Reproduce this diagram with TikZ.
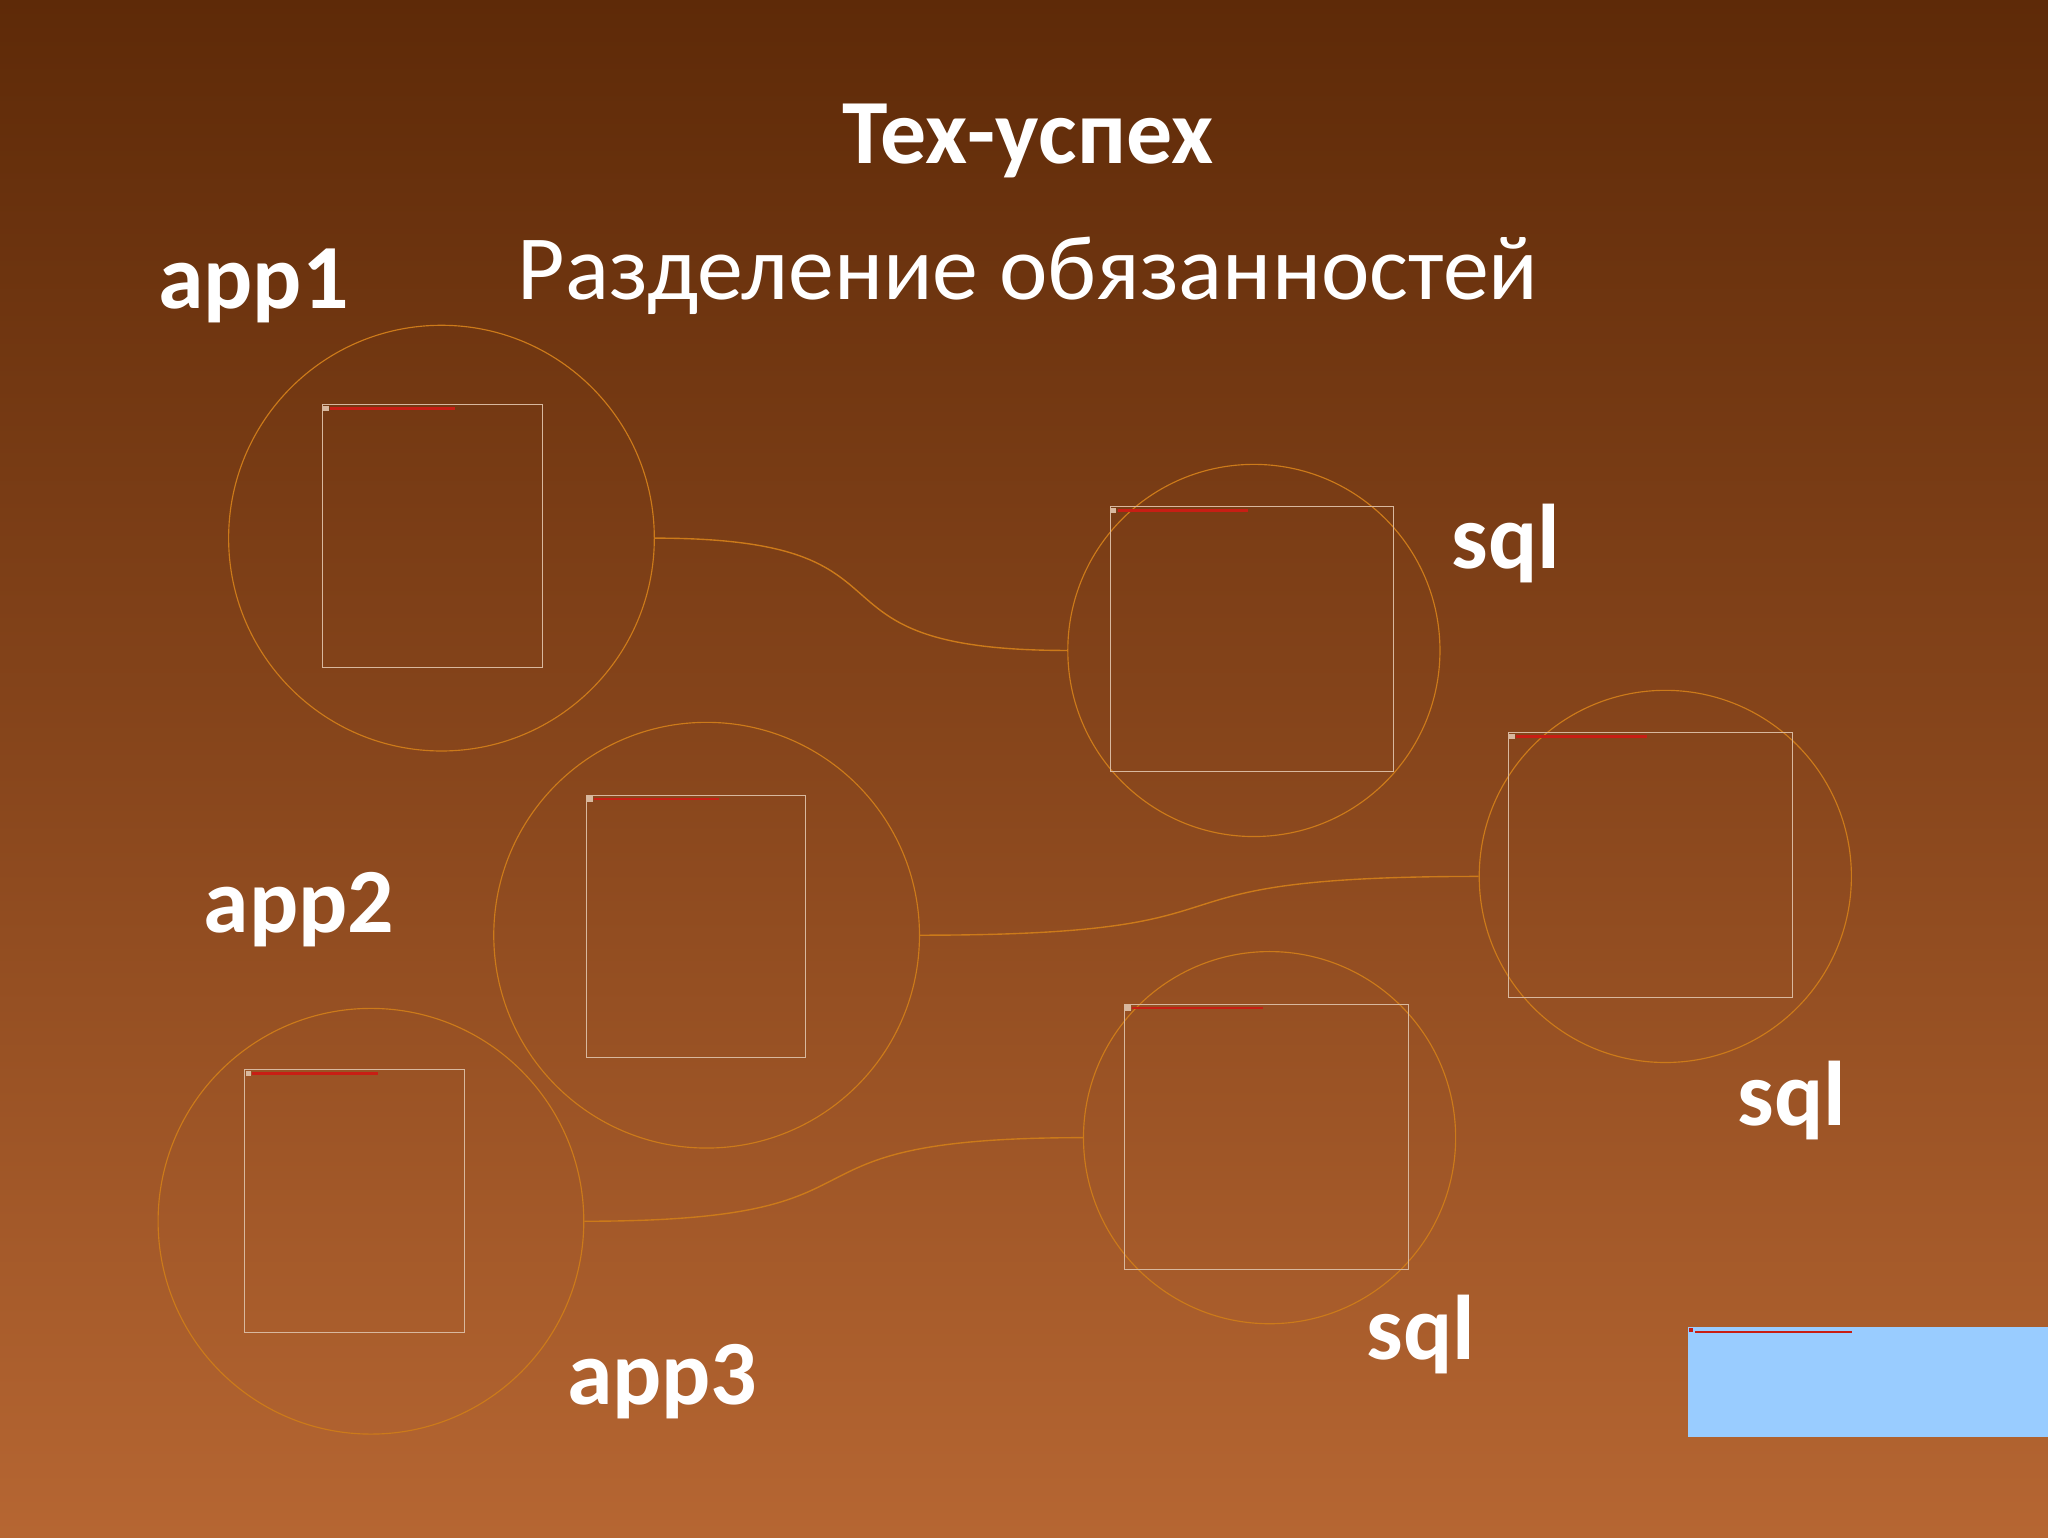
\documentclass[tikz,border=0pt]{standalone}
\usepackage{fontspec}
\setmainfont{Carlito}
\usepackage{xcolor}
\definecolor{bgtop}{RGB}{94,42,8}
\definecolor{bgmid}{RGB}{136,70,28}
\definecolor{bgbot}{RGB}{182,102,50}
\definecolor{ringorange}{RGB}{204,122,26}
\definecolor{framepale}{RGB}{216,184,158}
\definecolor{linkred}{RGB}{200,30,20}
\definecolor{panelblue}{RGB}{153,204,255}

\begin{document}
\begin{tikzpicture}[x=.02cm, y=-.02cm,
    ring/.style={circle, draw=ringorange, line width=.5pt, inner sep=0pt},
    frame/.style={rectangle, draw=framepale, line width=.4pt, inner sep=0pt},
    wire/.style={draw=ringorange, line width=.6pt, looseness=1.7},
    brokenlink/.style={draw=linkred, line width=1.2pt},
    label/.style={text=white, font=\bfseries\fontsize{40}{48}\selectfont, anchor=base}]
    % background
    \shade[top color=bgtop, bottom color=bgbot, middle color=bgmid] (0,0) rectangle (1568,1177);
    \useasboundingbox (0,0) rectangle (1568,1177);
    % titles
    \node[label] (title) at (787,125) {Тех-успех};
    \node[label, font=\fontsize{40}{48}\selectfont] (subtitle) at (787,229) {Разделение обязанностей};
    % application circles
    \node[ring, minimum size=6.52cm] (c1) at (338,412) {};
    \node[ring, minimum size=6.52cm] (c2) at (541,716) {};
    \node[ring, minimum size=6.52cm] (c3) at (284,935) {};
    \node[frame, minimum width=3.36cm, minimum height=4.02cm] (b1) at (331,410.5) {};
    \node[frame, minimum width=3.36cm, minimum height=4.02cm] (b2) at (533,709.5) {};
    \node[frame, minimum width=3.36cm, minimum height=4.02cm] (b3) at (271.5,919.5) {};
    % sql circles
    \node[ring, minimum size=5.70cm] (s1) at (960,498) {};
    \node[ring, minimum size=5.70cm] (s2) at (1275,671) {};
    \node[ring, minimum size=5.70cm] (s3) at (972,871) {};
    \node[frame, minimum width=4.34cm, minimum height=4.06cm] (bs1) at (958.5,489.5) {};
    \node[frame, minimum width=4.34cm, minimum height=4.06cm] (bs2) at (1263.5,662.5) {};
    \node[frame, minimum width=4.34cm, minimum height=4.06cm] (bs3) at (969.5,870.5) {};
    % broken image links
    \foreach \b/\len in {b1/96, b2/96, b3/96, bs1/100, bs2/100, bs3/100} {
        \fill[framepale] ([shift={(1,1)}]\b.north west) rectangle +(4,4);
        \draw[brokenlink] ([shift={(6,3)}]\b.north west) -- +(\len,0);
    }
    % connectors
    \draw[wire] (c1.east) to[out=0, in=180] (s1.west);
    \draw[wire] (c2.east) to[out=0, in=180] (s2.west);
    \draw[wire] (c3.east) to[out=0, in=180] (s3.west);
    % labels
    \node[label] (app1) at (194,236) {app1};
    \node[label] (app2) at (229,714) {app2};
    \node[label] (app3) at (507,1075) {app3};
    \node[label] (sql1) at (1153,435) {sql};
    \node[label] (sql2) at (1372,862) {sql};
    \node[label] (sql3) at (1088,1041) {sql};
    % blue panel
    \fill[panelblue] (1292,1016) rectangle (1568,1100);
    \fill[linkred] (1293,1017) rectangle +(3,3);
    \draw[brokenlink, line width=.8pt] (1298,1020) -- +(120,0);
\end{tikzpicture}
\end{document}
